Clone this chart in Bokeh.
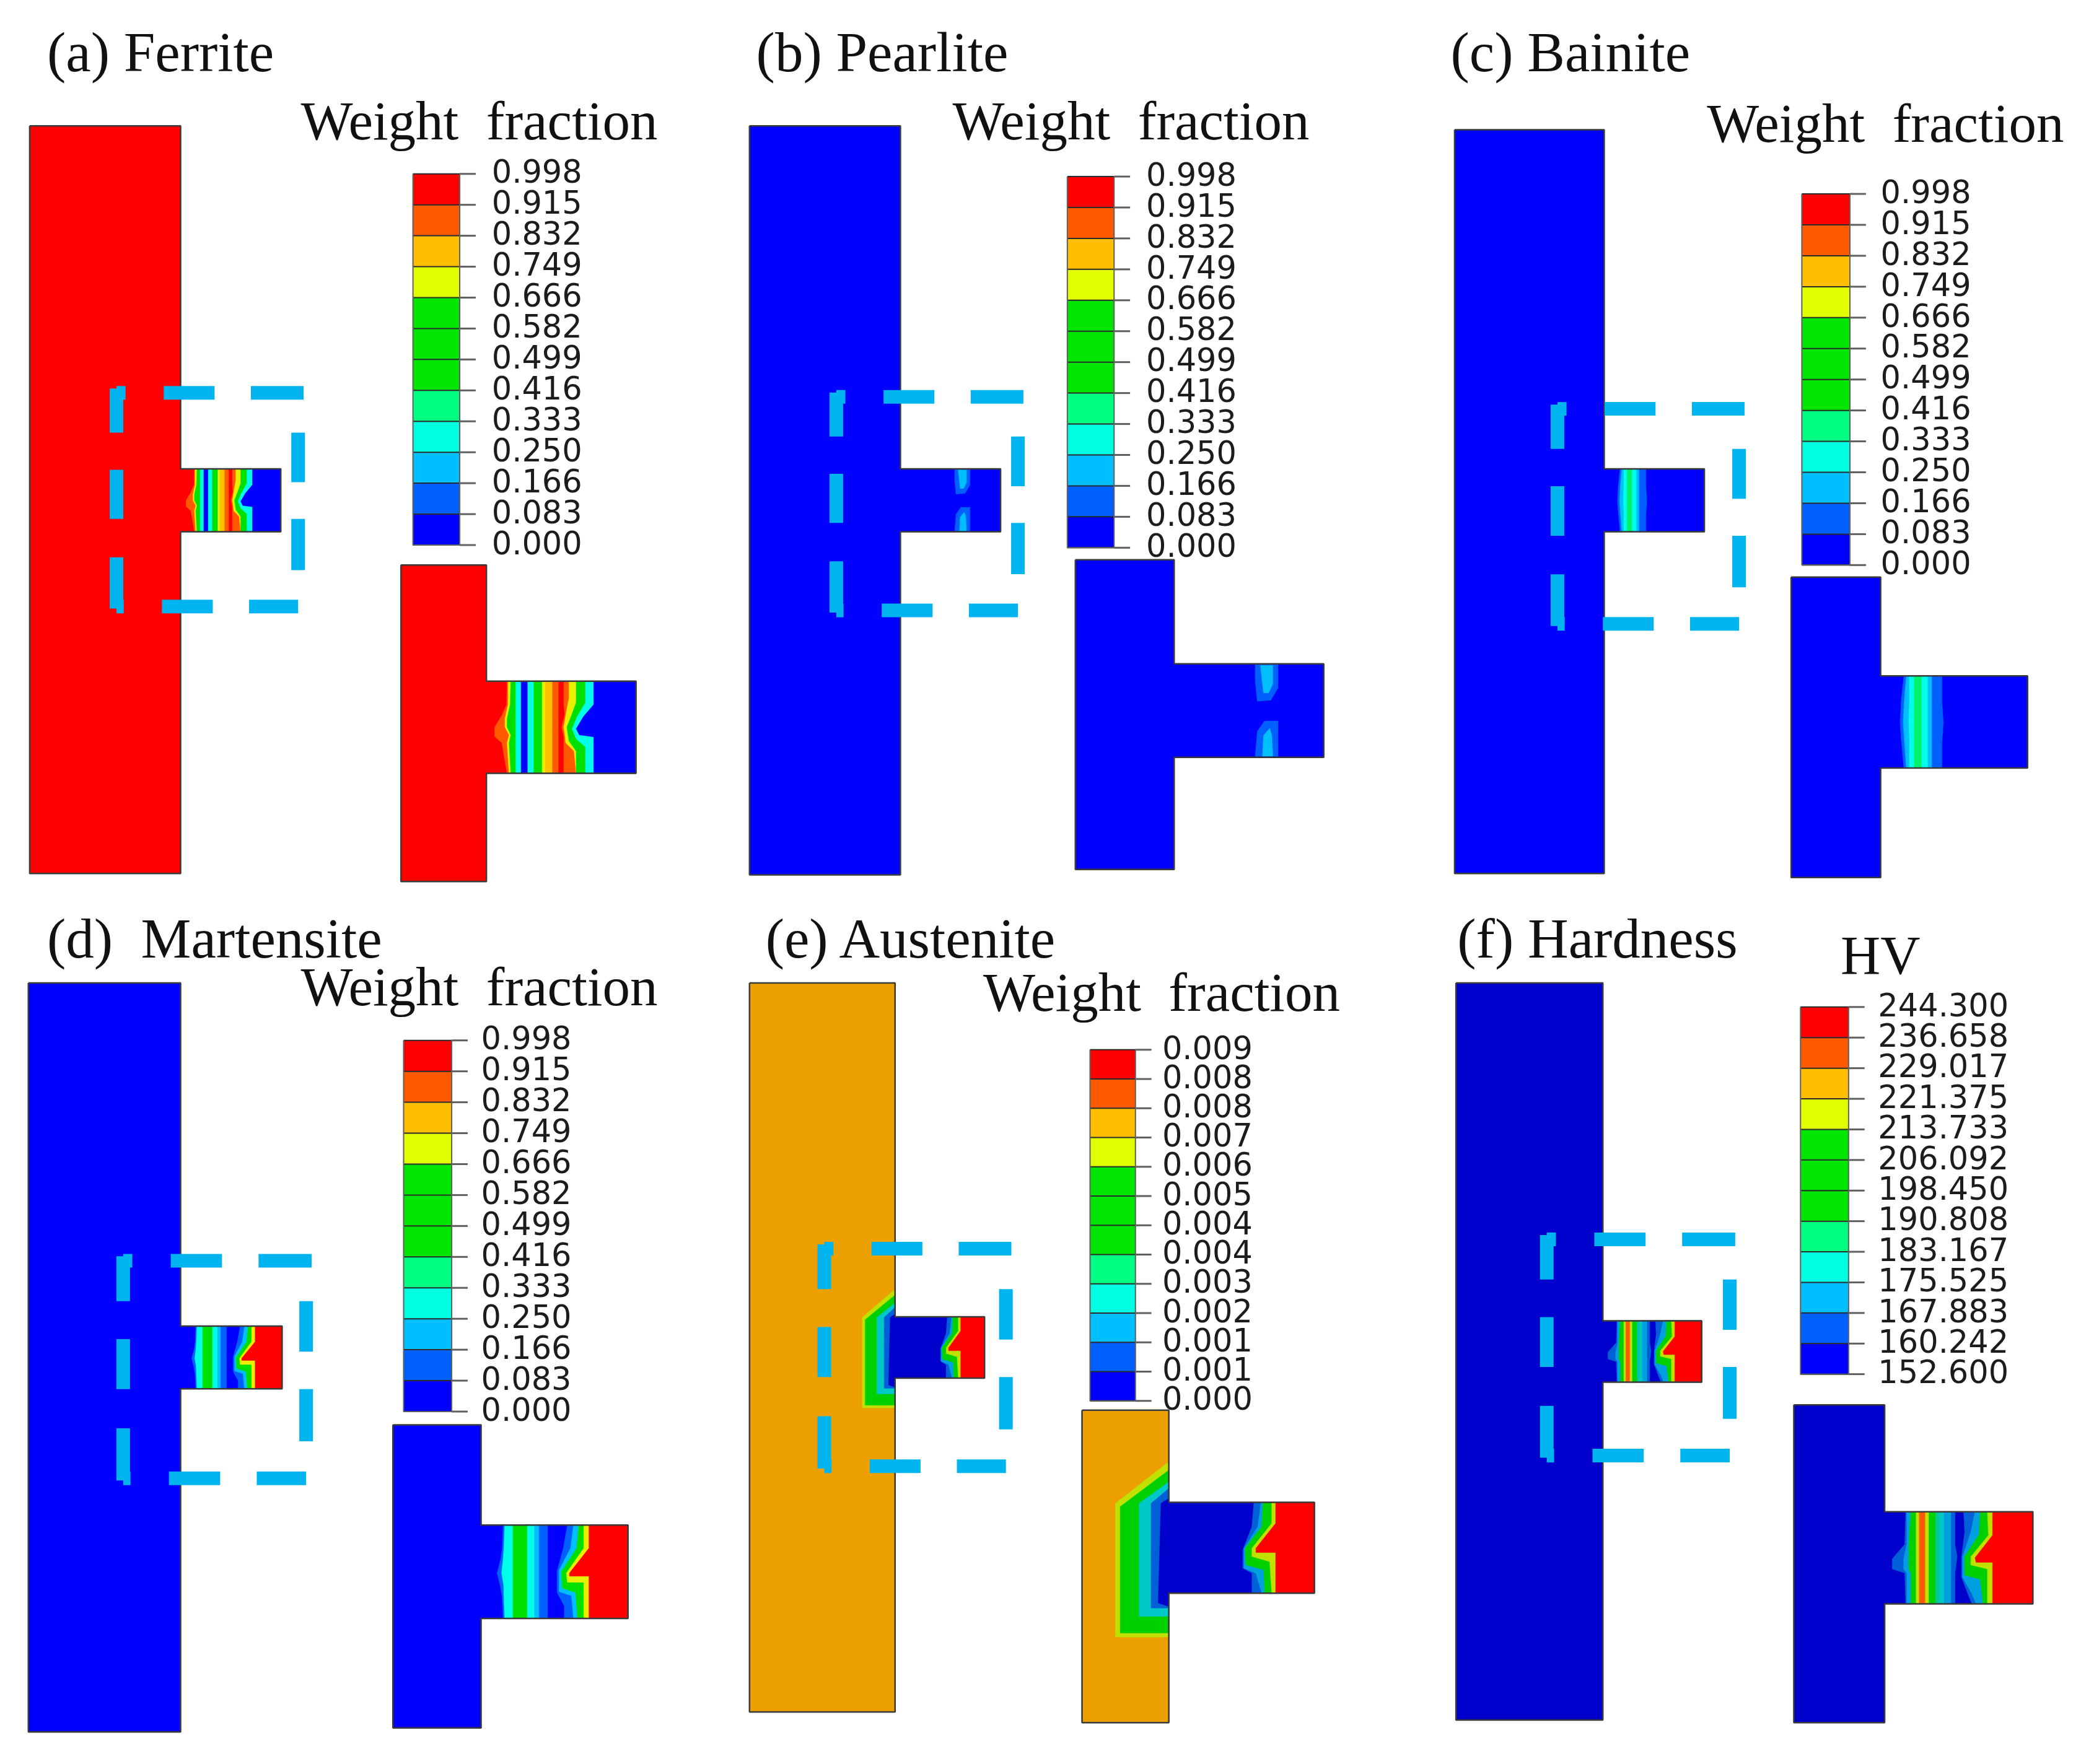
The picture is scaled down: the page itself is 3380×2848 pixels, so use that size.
from bokeh.plotting import figure
from bokeh.models import ColumnDataSource
from bokeh.core.properties import value
from bokeh.embed import file_html
from bokeh.resources import INLINE

# ---------- tick labels ----------
labels_wf = ["0.998","0.915","0.832","0.749","0.666","0.582","0.499","0.416","0.333","0.250","0.166","0.083","0.000"]
labels_au = ["0.009","0.008","0.008","0.007","0.006","0.005","0.004","0.004","0.003","0.002","0.001","0.001","0.000"]
labels_hv = ["244.300","236.658","229.017","221.375","213.733","206.092","198.450","190.808","183.167","175.525","167.883","160.242","152.600"]
legend_colors = ["#FF0000","#FF5A00","#FFBE00","#E2FF00","#00E600","#00E600","#00E600","#00FF80","#00FFE0","#00BFFF","#0060FF","#0000FF"]

RED="#FF0000"; ORG="#FF5A00"; AMB="#FFC000"; YEL="#E8F000"; GRN="#00E000"; MNT="#00F070"
CYN="#00FFE8"; SKY="#00BFFF"; LBL="#0060FF"; BLU="#0000FF"
DBL="#0000CC"; DLB="#0060D8"; DSK="#00A0E0"; DTE="#00C8C8"; DGR="#00D000"; DYG="#C0E000"
ORANGE_BODY="#EBA000"; DASH="#00B4F0"
WF = "Weight\u00a0 fraction"

def st(color, x):
    return (color, [x, x], None)

# ---------- contour bands: (color, boundary x, boundary y), read from zoomed stems ----------
ferrite_ref = (550,1275,295,750)
ferrite_bands = [
    (ORG,[650,648,625,590,590,625,650],[295,410,463,522,568,600,750]),
    (YEL,[655,655,640,640,660,650,660],[295,410,480,522,560,600,750]),
    (GRN,[668,665,650,650,668,660,668],[295,410,480,522,560,600,750]),
    st(CYN,692), st(BLU,718), st(CYN,750), st(GRN,780), st(YEL,820), st(AMB,835), st(ORG,870), st(RED,900),
    (ORG,[925,925,930,915,925,925,925],[295,410,460,522,568,610,750]),
    (YEL,[950,950,935,925,935,975,985],[295,380,460,522,600,640,750]),
    (GRN,[985,985,960,940,950,985,985],[295,400,470,522,590,640,750]),
    (CYN,[1030,1030,990,965,985,1030,1030],[295,400,470,530,580,620,750]),
    (BLU,[1070,1070,1020,985,1000,1070,1070],[295,410,470,530,560,570,750]),
]
ferrite_blobs = []

pearlite_ref = (585,1305,215,665)
pearlite_bands = []
pearlite_blobs = [
    (LBL,[975,1085,1085,1050,985,975],[215,215,330,390,395,300]),
    (SKY,[1000,1060,1060,1040,1015],[222,222,310,355,355]),
    (LBL,[985,1020,1085,1085,975],[540,490,490,660,660]),
    (SKY,[1015,1045,1055,1060,1010],[560,525,560,660,660]),
]

bainite_ref = (555,1270,275,720)
bainite_bands = [
    (LBL,[668,655,650,655,668],[275,395,500,580,720]),
    (SKY,[680,670,665,670,680],[275,395,500,580,720]),
    (CYN,[695,695,692,695,695],[275,395,500,580,720]),
    st(MNT,718), st(CYN,755), st(SKY,785), st(LBL,805),
    (BLU,[855,855,862,855,855],[275,400,500,600,720]),
]
bainite_blobs = []

martensite_ref = (525,1240,248,700)
martensite_bands = [
    (LBL,[632,628,620,603,618,628,632],[248,361,415,480,540,600,700]),
    (CYN,[640,636,632,625,635,636,640],[248,361,415,480,540,600,700]),
    st(GRN,680), st(CYN,750), st(SKY,785), st(LBL,808), st(BLU,850),
    (LBL,[945,925,895,895,930,930],[248,361,470,575,640,700]),
    (SKY,[975,960,905,905,965,975],[248,361,465,570,590,700]),
    (GRN,[1000,990,915,920,985,995],[248,361,475,552,575,700]),
    (YEL,[1025,1025,940,945,1025,1025],[248,360,480,525,525,700]),
    (RED,[1050,1050,955,955,1050,1050],[248,360,480,495,495,700]),
]
martensite_blobs = []

austenite_ref = (1075,1443,787,1060)
austenite_blobs = [
    (DYG,[1075,940,940,1075],[665,790,1192,1192]),
    (DGR,[1075,952,952,1075],[690,800,1180,1180]),
    (DTE,[1075,1000,1000,1075],[725,790,1130,1130]),
    (DLB,[1075,1030,1030,1075],[745,790,1105,1105]),
    (DBL,[1075,1055,1048,1075],[775,790,1090,1100]),
]
austenite_bands = [
    st(DBL,1075),
    (DLB,[1290,1285,1262,1262,1285,1285],[787,860,930,985,1000,1060]),
    (DSK,[1308,1300,1265,1265,1295,1310],[787,860,925,985,1000,1060]),
    (DGR,[1313,1310,1268,1270,1315,1317],[787,860,925,975,990,1060]),
    (DYG,[1335,1335,1285,1285,1330,1335],[787,850,925,950,965,1060]),
    (RED,[1345,1345,1295,1295,1345,1345],[787,850,925,938,938,1060]),
]

hardness_ref = (483,1200,180,630)
hardness_blobs = []
hardness_bands = [
    (DLB,[585,580,520,520,580,585],[180,340,410,460,480,630]),
    (DSK,[590,590,575,575,590,590],[180,340,410,460,480,630]),
    (DGR,[610,600,600,600,610,610],[180,340,410,460,480,630]),
    st(DYG,635), st(ORG,650), st(DYG,680), st(DGR,697), st("#00C8A0",730), st(DTE,750), st(DSK,770), st(DLB,805),
    (DBL,[825,825,835,825,825],[180,340,400,480,630]),
    (DLB,[865,870,855,855,885,905],[180,280,400,500,580,630]),
    (DSK,[920,900,860,860,905,925],[180,280,400,500,580,630]),
    (DGR,[945,940,870,870,945,960],[180,290,400,490,510,630]),
    (DYG,[980,985,900,900,980,980],[180,295,400,440,460,630]),
    (RED,[1005,1005,920,925,1005,1005],[180,295,405,428,428,630]),
]

# ---------- dash pieces of the cyan frames, as fractions of each side ----------
dash_top    = [(0,.05),(.26,.54),(.74,1.03)]
dash_right  = [(.186,.418),(.59,.83)]
dash_bottom = [(0,.04),(.25,.53),(.73,1)]
dash_left   = [(-.02,.186),(.36,.59),(.77,1.01)]

# ---------- panels ----------
panels = [
 dict(main=(22,135,94,654,210,351,398), inset=(300,364,423,660,476,510,579), fill=RED, cb=(309,344,130,408), lx=368, labels=labels_wf,
      title="(a) Ferrite", tpos=(35,39), head=WF, hpos=(225,90), frame=(87,223,294,454),
      ref=ferrite_ref, bands=ferrite_bands, blobs=ferrite_blobs),
 dict(main=(561,674,94,655,749,351,398), inset=(805,879,419,651,991,497,567), fill=BLU, cb=(799,834,132,410), lx=858, labels=labels_wf,
      title="(b) Pearlite", tpos=(566,39), head=WF, hpos=(713,90), frame=(626,762,297,457),
      ref=pearlite_ref, bands=pearlite_bands, blobs=pearlite_blobs),
 dict(main=(1089,1201,97,654,1276,351,398), inset=(1341,1408,432,657,1518,506,575), fill=BLU, cb=(1349,1385,145,423), lx=1408, labels=labels_wf,
      title="(c) Bainite", tpos=(1086,39), head=WF, hpos=(1278,92), frame=(1166,1302,306,467),
      ref=bainite_ref, bands=bainite_bands, blobs=bainite_blobs),
 dict(main=(21,135,736,1297,211,993,1040), inset=(294,360,1067,1294,470,1142,1212), fill=BLU, cb=(302,338,779,1057), lx=360, labels=labels_wf,
      title="(d)\u00a0 Martensite", tpos=(35,703), head=WF, hpos=(225,739), frame=(92,229,944,1107),
      ref=martensite_ref, bands=martensite_bands, blobs=martensite_blobs),
 dict(main=(561,670,736,1282,737,986,1032), inset=(810,875,1056,1290,984,1125,1193), fill=ORANGE_BODY, cb=(816,850,786,1049), lx=870, labels=labels_au,
      title="(e) Austenite", tpos=(573,703), head=WF, hpos=(736,743), frame=(617,753,935,1098),
      ref=austenite_ref, bands=austenite_bands, blobs=austenite_blobs),
 dict(main=(1090,1200,736,1288,1274,989,1035), inset=(1343,1411,1052,1290,1522,1132,1201), fill=DBL, cb=(1348,1384,754,1029), lx=1406, labels=labels_hv,
      title="(f) Hardness", tpos=(1091,703), head="HV", hpos=(1378,715), frame=(1158,1295,928,1090),
      ref=hardness_ref, bands=hardness_bands, blobs=hardness_blobs),
]

S = 3380/1568
W, H = 3364, 2832
p = figure(width=W, height=H, output_backend="svg", toolbar_location=None,
           x_range=(0, W/S), y_range=(H/S, 0), min_border=0,
           x_axis_type=None, y_axis_type=None, outline_line_color=None)
p.grid.visible = False

def tee_xy(g):
    L,R,T,B,SR,ST,SB = g
    return [L,R,R,SR,SR,R,R,L],[T,T,ST,ST,SB,SB,B,B]

px, py, pc = [], [], []
ox, oy = [], []
for pn in panels:
    for g in (pn["main"], pn["inset"]):
        x, y = tee_xy(g)
        px.append(x); py.append(y); pc.append(pn["fill"])
        ox.append(x+[x[0]]); oy.append(y+[y[0]])
        L,R,T,B,SR,ST,SB = g
        x0,x1,y0,y1 = pn["ref"]
        mx = lambda v: R+(v-x0)/(x1-x0)*(SR-R)
        my = lambda v: ST+(v-y0)/(y1-y0)*(SB-ST)
        for c,xs,ys in pn["blobs"]:
            px.append([mx(v) for v in xs]); py.append([my(v) for v in ys]); pc.append(c)
        for c,xs,ys in pn["bands"]:
            if ys is None:
                ys = [y0,y1]
            bx = [mx(v) for v in xs]; by = [my(v) for v in ys]
            px.append(bx+[SR,SR]); py.append(by+[SB,ST]); pc.append(c)
p.patches(xs="x", ys="y", fill_color="c", line_color="c", line_width=0.5,
          source=ColumnDataSource(dict(x=px, y=py, c=pc)))
p.multi_line(xs=ox, ys=oy, line_color="#3a3a3a", line_width=2.5)

# colour legends
for pn in panels:
    x0,x1,t,b = pn["cb"]
    n = len(legend_colors)
    edges = [t+(b-t)*i/n for i in range(n+1)]
    p.quad(left=x0, right=x1, top=edges[:-1], bottom=edges[1:], fill_color=legend_colors, line_color=None)
    p.segment(x0=[x0]*(n+1), x1=[x1]*(n+1), y0=edges, y1=edges, line_color="#2a2a2a", line_width=2)
    p.segment(x0=[x1]*(n+1), x1=[x1+12]*(n+1), y0=edges, y1=edges, line_color="#606060", line_width=3)
    p.multi_line(xs=[[x0,x0,x1,x1]], ys=[[t,b,b,t]], line_color="#606060", line_width=2)
    p.text(x=[pn["lx"]]*(n+1), y=[e-2 for e in edges], text=pn["labels"], text_font=value("DejaVu Sans"),
           text_font_size="51px", text_color="#1c1c1c", text_baseline="middle", text_align="left")
    p.text(x=[pn["tpos"][0]], y=[pn["tpos"][1]], text=[pn["title"]], text_font=value("Liberation Serif"),
           text_font_size="91px", text_color="#111111", text_baseline="middle", text_align="left")
    p.text(x=[pn["hpos"][0]], y=[pn["hpos"][1]], text=[pn["head"]], text_font=value("Liberation Serif"),
           text_font_size="89px", text_color="#111111", text_baseline="middle", text_align="left")

# dashed frames
sx0,sx1,sy0,sy1 = [],[],[],[]
for pn in panels:
    l,r,t,b = pn["frame"]
    for a,c in dash_top:
        sx0.append(l+a*(r-l)); sx1.append(l+c*(r-l)); sy0.append(t); sy1.append(t)
    for a,c in dash_bottom:
        sx0.append(l+a*(r-l)); sx1.append(l+c*(r-l)); sy0.append(b); sy1.append(b)
    for a,c in dash_left:
        sx0.append(l); sx1.append(l); sy0.append(t+a*(b-t)); sy1.append(t+c*(b-t))
    for a,c in dash_right:
        sx0.append(r); sx1.append(r); sy0.append(t+a*(b-t)); sy1.append(t+c*(b-t))
p.segment(x0=sx0, x1=sx1, y0=sy0, y1=sy1, line_color=DASH, line_width=22, line_cap="butt")

open("out.html", "w").write(file_html(p, INLINE))
